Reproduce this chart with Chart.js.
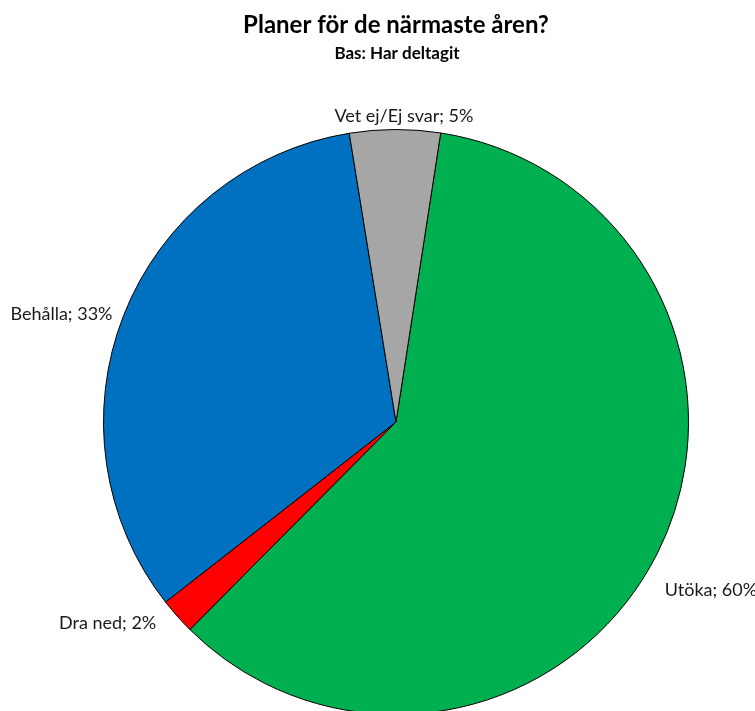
<!DOCTYPE html>
<html><head><meta charset="utf-8">
<script src="https://cdn.jsdelivr.net/npm/chart.js@4"></script>
<style>html,body{margin:0;padding:0;overflow:hidden;background:#fff}canvas{display:block}</style>
</head><body>
<div style="width:755px;height:716px;position:relative"><canvas id="c"></canvas></div>
<script>
const titleText = "Planer för de närmaste åren?";
const subtitleText = "Bas: Har deltagit";
const categories = ["Utöka", "Dra ned", "Behålla", "Vet ej/Ej svar"];
const values = [60, 2, 33, 5];
const colors = ["#00B050", "#FF0000", "#0070C0", "#A6A6A6"];
// label nudges (dx, dy) relative to the geometric anchor
const labelNudgeX = [-3, -12, 0, 9];
const labelNudgeY = [31, -1, 3, -1];
const FONT = "Lato, 'Liberation Sans', sans-serif";

const labelPlugin = {
  id: 'labels',
  afterDraw(chart) {
    const ctx = chart.ctx;
    ctx.save();
    ctx.fillStyle = '#000';
    ctx.textAlign = 'center';
    ctx.textBaseline = 'middle';
    ctx.font = "bold 24px " + FONT;
    ctx.fillText(titleText, 396, 25);
    ctx.font = "bold 17px " + FONT;
    ctx.fillText(subtitleText, 397, 54);
    const meta = chart.getDatasetMeta(0);
    ctx.font = "18px " + FONT;
    ctx.fillStyle = '#1a1a1a';
    meta.data.forEach((arc, i) => {
      const p = arc.getProps(['x','y','startAngle','endAngle','outerRadius'], true);
      const mid = (p.startAngle + p.endAngle) / 2;
      const r = p.outerRadius + 12;
      const x = p.x + Math.cos(mid) * r + labelNudgeX[i];
      const y = p.y + Math.sin(mid) * r + labelNudgeY[i];
      const c = Math.cos(mid);
      ctx.textAlign = Math.abs(c) < 0.2 ? 'center' : (c > 0 ? 'left' : 'right');
      ctx.textBaseline = 'middle';
      ctx.fillText(categories[i] + "; " + values[i] + "%", x, y);
    });
    ctx.restore();
  }
};

new Chart(document.getElementById('c'), {
  type: 'pie',
  data: {
    labels: categories,
    datasets: [{
      data: values,
      backgroundColor: colors,
      borderColor: '#000',
      borderWidth: 1
    }]
  },
  options: {
    responsive: true,
    maintainAspectRatio: false,
    animation: false,
    rotation: 8.8,
    layout: { padding: { left: 103, right: 66, top: 128, bottom: 0 } },
    plugins: { legend: { display: false }, tooltip: { enabled: false }, title: { display: false } }
  },
  plugins: [labelPlugin]
});
</script>
</body></html>
